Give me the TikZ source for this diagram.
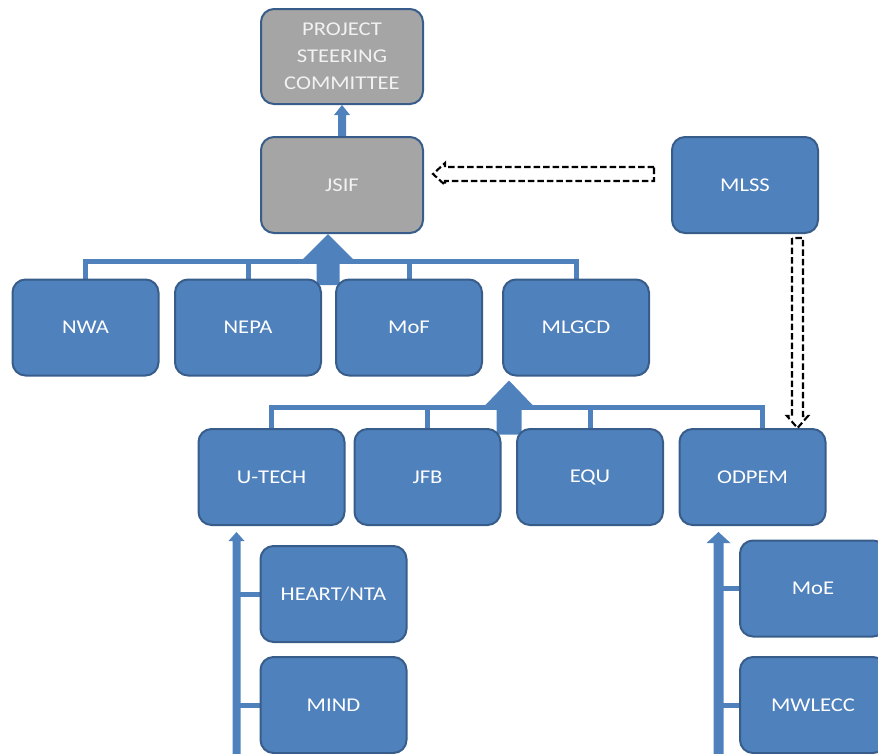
\documentclass[tikz,border=0pt]{standalone}
\usepackage{fontspec}
\setmainfont{Carlito}[FakeStretch=1.16]
\usetikzlibrary{calc,backgrounds}
\definecolor{boxblue}{HTML}{4F81BD}
\definecolor{boxedge}{HTML}{385D8A}
\definecolor{boxgray}{HTML}{A5A5A5}
% block arrow pointing up: #1 tip, #2 bottom, #3 half shaft, #4 half head, #5 head length
\newcommand\myuparrow[5]{%
  \fill[boxblue] let \p1=(#1), \p2=(#2) in
    (\x1-#3pt,\y2) -- (\x1-#3pt,\y1-#5pt) -- (\x1-#4pt,\y1-#5pt) -- (\x1,\y1)
    -- (\x1+#4pt,\y1-#5pt) -- (\x1+#3pt,\y1-#5pt) -- (\x1+#3pt,\y2) -- cycle;}
% hollow dashed arrow pointing left: #1 tip, #2 tail
\newcommand\myhollowleft[2]{%
  \draw[hollow] let \p1=(#1), \p2=(#2) in
    (\x2,\y1+7pt) -- (\x1+12pt,\y1+7pt) -- (\x1+12pt,\y1+11pt) -- (\x1,\y1)
    -- (\x1+12pt,\y1-11pt) -- (\x1+12pt,\y1-7pt) -- (\x2,\y1-7pt) -- cycle;}
% hollow dashed arrow pointing down: #1 tip, #2 tail
\newcommand\myhollowdown[2]{%
  \draw[hollow] let \p1=(#1), \p2=(#2) in
    (\x1-5.5pt,\y2) -- (\x1-5.5pt,\y1+12pt) -- (\x1-10.5pt,\y1+12pt) -- (\x1,\y1)
    -- (\x1+10.5pt,\y1+12pt) -- (\x1+5.5pt,\y1+12pt) -- (\x1+5.5pt,\y2) -- cycle;}
\begin{document}
\begin{tikzpicture}[x=1pt,y=-1pt,
  box/.style={draw=boxedge, line width=2pt, rounded corners=13pt, fill=boxblue,
    text=white, minimum width=146pt, minimum height=96pt, inner sep=2pt,
    align=center, font=\fontsize{19.5}{27}\selectfont},
  graybox/.style={box, fill=boxgray, text=white!95!black},
  conn/.style={draw=boxblue, line width=5pt},
  hollow/.style={draw=black, line width=2.1pt, dash pattern=on 6.5pt off 3pt,
    fill=white, line join=miter}]
\useasboundingbox (0,0) rectangle (878,753);
% top
\node[graybox, minimum width=162pt, minimum height=95pt] (psc) at (342,56.5) {PROJECT\\STEERING\\COMMITTEE};
\node[graybox, minimum width=162pt] (jsif) at (342,185) {JSIF};
\node[box] (mlss) at (745,185) {MLSS};
% row 2
\node[box] (nwa) at (85.5,327.5) {NWA};
\node[box] (nepa) at (248,327.5) {NEPA};
\node[box] (mof) at (409,327.5) {MoF};
\node[box] (mlgcd) at (576,327.5) {MLGCD};
% row 3
\node[box] (utech) at (271.5,477) {U-TECH};
\node[box] (jfb) at (427.5,477) {JFB};
\node[box] (equ) at (590,477) {EQU};
\node[box] (odpem) at (752.5,477) {ODPEM};
% row 4
\node[box] (heart) at (333.5,594) {HEART/NTA};
\node[box] (mind) at (333.5,705) {MIND};
\node[box] (moe) at (813,588.5) {MoE};
\node[box] (mwlecc) at (813,705) {MWLECC};

\begin{scope}[on background layer]
  % JSIF -> PSC
  \myuparrow{psc.south}{jsif.north}{4}{8}{10}
  % row 2 bracket
  \coordinate (b2) at (0,261);
  \draw[conn] (nwa.north) -- (nwa.north |- b2) -- (mlgcd.north |- b2) -- (mlgcd.north);
  \draw[conn] (nepa.north) -- (nepa.north |- b2);
  \draw[conn] (mof.north) -- (mof.north |- b2);
  \coordinate (t2) at ($(jsif.south)+(-14,0)$);
  \coordinate (s2) at ($(jsif.south)+(-14,51)$);
  \myuparrow{t2}{s2}{11.5}{25}{25}
  % row 3 bracket
  \coordinate (b3) at (0,407);
  \draw[conn] (utech.north) -- (utech.north |- b3) -- ($(odpem.north |- b3)+(10,0)$) -- ($(odpem.north)+(10,0)$);
  \draw[conn] (jfb.north) -- (jfb.north |- b3);
  \draw[conn] (equ.north) -- (equ.north |- b3);
  \coordinate (t3) at ($(mlgcd.south)+(-67,4)$);
  \coordinate (s3) at ($(mlgcd.south)+(-67,58)$);
  \myuparrow{t3}{s3}{12.5}{24}{25}
  % left vertical arrow
  \coordinate (tl) at ($(utech.south)+(-35,6)$);
  \coordinate (sl) at ($(utech.south)+(-35,300)$);
  \draw[conn] (heart.west) -- (heart.west -| tl);
  \draw[conn] (mind.west) -- (mind.west -| tl);
  \myuparrow{tl}{sl}{4}{8}{9}
  % right vertical arrow
  \coordinate (tr) at ($(odpem.south)+(-34,6)$);
  \coordinate (sr) at ($(odpem.south)+(-34,300)$);
  \draw[conn] (moe.west) -- (moe.west -| tr);
  \draw[conn] (mwlecc.west) -- (mwlecc.west -| tr);
  \myuparrow{tr}{sr}{5}{12}{11}
\end{scope}

% dashed hollow arrows
\coordinate (ht) at ($(jsif.east)+(9,-11)$);
\coordinate (hs) at ($(mlss.west)+(-17,-11)$);
\myhollowleft{ht}{hs}
\coordinate (vt) at ($(odpem.north)+(45,0)$);
\coordinate (vs) at ($(mlss.south)+(52.5,4)$);
\myhollowdown{vt}{vs}
\end{tikzpicture}
\end{document}
